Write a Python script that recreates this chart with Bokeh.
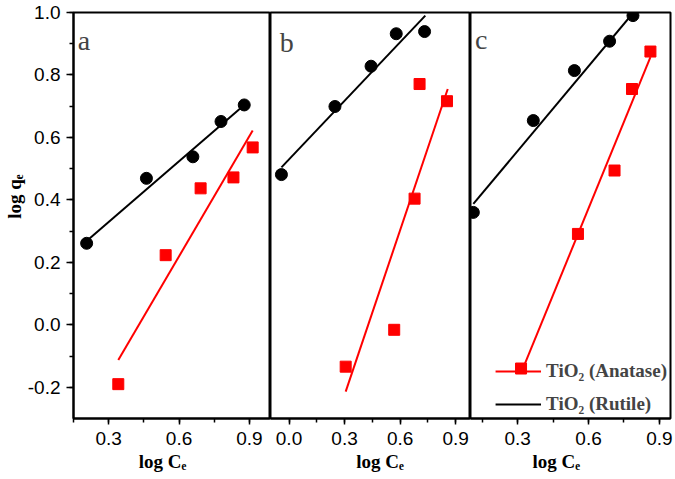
from bokeh.plotting import figure
from bokeh.models import Range1d, SingleIntervalTicker, NumeralTickFormatter, Label, Legend, LegendItem
from bokeh.layouts import row
from bokeh.embed import file_html
from bokeh.resources import INLINE

# panel a
a_rut_x = [0.206, 0.461, 0.659, 0.779, 0.878]
a_rut_y = [0.261, 0.469, 0.538, 0.651, 0.704]
a_rut_fit_x = [0.206, 0.878]
a_rut_fit_y = [0.268, 0.704]
a_ana_x = [0.341, 0.543, 0.692, 0.832, 0.914]
a_ana_y = [-0.190, 0.223, 0.437, 0.472, 0.568]
a_ana_fit_x = [0.341, 0.914]
a_ana_fit_y = [-0.113, 0.622]

# panel b
b_rut_x = [-0.041, 0.248, 0.443, 0.579, 0.732]
b_rut_y = [0.481, 0.699, 0.828, 0.932, 0.939]
b_rut_fit_x = [-0.041, 0.736]
b_rut_fit_y = [0.504, 0.990]
b_ana_x = [0.306, 0.568, 0.678, 0.705, 0.853]
b_ana_y = [-0.134, -0.016, 0.404, 0.771, 0.716]
b_ana_fit_x = [0.306, 0.857]
b_ana_fit_y = [-0.214, 0.755]

# panel c
c_rut_x = [0.112, 0.366, 0.540, 0.689, 0.788]
c_rut_y = [0.360, 0.654, 0.814, 0.908, 0.990]
c_rut_fit_x = [0.112, 0.790]
c_rut_fit_y = [0.387, 1.000]
c_ana_x = [0.314, 0.555, 0.710, 0.784, 0.862]
c_ana_y = [-0.140, 0.291, 0.494, 0.755, 0.875]
c_ana_fit_x = [0.314, 0.862]
c_ana_fit_y = [-0.155, 0.857]

x_ranges = [(0.15, 0.99), (-0.1, 0.98), (0.1, 0.947)]
panel_letters = ["a", "b", "c"]
letter_pos = [(0.168, 0.91), (-0.05, 0.905), (0.119, 0.912)]
NB = "\u00a0"
# the x labels sit a little off centre in the original
x_labels = ["log C\u2091" + NB * 4, NB * 4 + "log C\u2091", "log C\u2091" + NB * 6]
y_label = NB * 8 + "log q\u2091"
legend_labels = ["TiO\u2082 (Anatase)", "TiO\u2082 (Rutile)"]

SERIF = "Liberation Serif"
SANS = "Liberation Sans"

y_range = Range1d(-0.3, 1.0)


def make_panel(i, rut, ana, width, left, right):
    p = figure(width=width, height=477, x_range=Range1d(*x_ranges[i]), y_range=y_range,
               output_backend="svg", toolbar_location=None,
               y_axis_location="left" if i == 0 else None,
               min_border_left=left, min_border_right=right,
               min_border_top=12, min_border_bottom=59)
    p.grid.visible = False
    p.outline_line_color = "black"
    p.outline_line_width = 2
    p.outline_line_alpha = 1.0
    p.background_fill_color = "white"
    p.border_fill_color = "white"

    for ax in p.axis:
        ax.axis_line_width = 2
        ax.axis_line_color = "black"
        ax.major_tick_in = 0
        ax.minor_tick_in = 0
        ax.major_tick_line_width = 1.5
        ax.minor_tick_line_width = 1.5
        ax.major_label_text_font = SANS
        ax.major_label_text_font_size = "19px"
        ax.major_label_text_color = "black"
        ax.formatter = NumeralTickFormatter(format="0.0")
        ax.axis_label_text_font = SERIF
        ax.axis_label_text_font_style = "bold"
        ax.axis_label_text_font_size = "19px"
        ax.axis_label_text_color = "black"

    p.xaxis.ticker = SingleIntervalTicker(interval=0.3, num_minor_ticks=2)
    p.xaxis.major_tick_out = 6
    p.xaxis.minor_tick_out = 4
    p.xaxis.major_label_standoff = 7
    p.xaxis.axis_label = x_labels[i]
    p.xaxis.axis_label_standoff = 3
    if i == 0:
        p.yaxis.ticker = SingleIntervalTicker(interval=0.2, num_minor_ticks=2)
        p.yaxis.major_tick_out = 7
        p.yaxis.minor_tick_out = 4
        p.yaxis.major_label_standoff = 6
        p.yaxis.axis_label = y_label
        p.yaxis.axis_label_standoff = 0

    rut_line = p.line(rut[2], rut[3], line_width=2, color="black")
    ana_line = p.line(ana[2], ana[3], line_width=2, color="#ff0000")
    p.scatter(rut[0], rut[1], marker="circle", size=12, color="black")
    p.scatter(ana[0], ana[1], marker="square", size=11, color="#ff0000")

    lx, ly = letter_pos[i]
    p.add_layout(Label(x=lx, y=ly, text=panel_letters[i], text_baseline="alphabetic",
                       text_font=SERIF, text_font_size="28px"))
    return p, rut_line, ana_line


p1, _, _ = make_panel(0, (a_rut_x, a_rut_y, a_rut_fit_x, a_rut_fit_y),
                      (a_ana_x, a_ana_y, a_ana_fit_x, a_ana_fit_y), 270, 72, 0)
p2, _, _ = make_panel(1, (b_rut_x, b_rut_y, b_rut_fit_x, b_rut_fit_y),
                      (b_ana_x, b_ana_y, b_ana_fit_x, b_ana_fit_y), 200, 0, 0)
p3, rut_c, ana_c = make_panel(2, (c_rut_x, c_rut_y, c_rut_fit_x, c_rut_fit_y),
                              (c_ana_x, c_ana_y, c_ana_fit_x, c_ana_fit_y), 203, 0, 3)

legend = Legend(items=[LegendItem(label=legend_labels[0], renderers=[ana_c]),
                       LegendItem(label=legend_labels[1], renderers=[rut_c])],
                location="bottom_right", orientation="vertical",
                label_text_font=SERIF, label_text_font_style="bold", label_text_font_size="19px",
                glyph_width=46, glyph_height=20, label_height=20, label_standoff=5,
                spacing=11, padding=3, margin=0,
                border_line_alpha=0, background_fill_alpha=0)
p3.add_layout(legend)

layout = row(p1, p2, p3, spacing=0)
open("out.html", "w").write(file_html(layout, INLINE))
